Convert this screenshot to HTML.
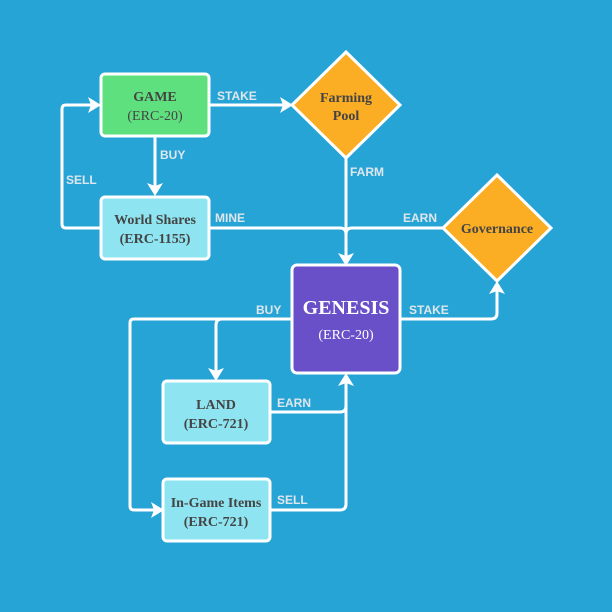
<!DOCTYPE html>
<html><head><meta charset="utf-8"><style>
html,body{margin:0;padding:0;background:#27a4d6;}
svg{display:block}
.l{font-family:"Liberation Sans",sans-serif;font-weight:bold;font-size:12px;fill:#dfe6ec}
.n{font-family:"Liberation Serif",serif;font-weight:bold;font-size:14px;fill:#444;text-anchor:middle}
.e{stroke:#fff;stroke-width:3;fill:none;stroke-linejoin:round}
.h{fill:#fff}
</style></head><body>
<svg width="612" height="612" viewBox="0 0 612 612">
<rect width="612" height="612" fill="#27a4d6"/>
<path class="e" d="M209 105H284"/>
<path class="h" d="M293 105L280 97L283 105L280 113Z"/>
<path class="e" d="M155 136V188"/>
<path class="h" d="M155 196L147 183L155 186L163 183Z"/>
<path class="e" d="M101 228H66Q62 228 62 224V109Q62 105 66 105H93"/>
<path class="h" d="M101 105L88 97L91 105L88 113Z"/>
<path class="e" d="M209 228H340Q346 228 346 234V257"/>
<path class="e" d="M346 158V257"/>
<path class="e" d="M443 228H352Q346 228 346 234"/>
<path class="h" d="M346 266L338 253L346 256L354 253Z"/>
<path class="e" d="M400 319H491Q497 319 497 313V290"/>
<path class="h" d="M497 281L489 294L497 291L505 294Z"/>
<path class="e" d="M292 319H134Q130 319 130 323V506Q130 510 134 510H155"/>
<path class="h" d="M164 510L151 502L154 510L151 518Z"/>
<path class="e" d="M222 319Q216 319 216 325V373"/>
<path class="h" d="M216 381L208 368L216 371L224 368Z"/>
<path class="e" d="M270 412H340Q346 412 346 406V381"/>
<path class="e" d="M270 510H340Q346 510 346 504V381"/>
<path class="h" d="M346 373L338 386L346 383L354 386Z"/>
<rect x="101" y="74" width="108" height="62" rx="4" fill="#5fe07f" stroke="#fff" stroke-width="3"/>
<text class="n" x="155" y="101">GAME</text>
<text class="n" x="155" y="120" style="font-weight:normal">(ERC-20)</text>
<rect x="101" y="197" width="108" height="62" rx="4" fill="#8ee5f1" stroke="#fff" stroke-width="3"/>
<text class="n" x="155" y="224">World Shares</text>
<text class="n" x="155" y="243">(ERC-1155)</text>
<path d="M346 52L400 105L346 158L292 105Z" fill="#fbae24" stroke="#fff" stroke-width="3"/>
<text class="n" x="346" y="102">Farming</text>
<text class="n" x="346" y="120">Pool</text>
<path d="M497 175L551 228L497 281L443 228Z" fill="#fbae24" stroke="#fff" stroke-width="3"/>
<text class="n" x="497" y="233">Governance</text>
<rect x="292" y="265" width="108" height="108" rx="5" fill="#6a50c8" stroke="#fff" stroke-width="3"/>
<text class="n" x="346" y="314" style="fill:#fff;font-size:20px">GENESIS</text>
<text class="n" x="346" y="339" style="fill:#fff;font-weight:normal">(ERC-20)</text>
<rect x="163" y="381" width="107" height="62" rx="4" fill="#8ee5f1" stroke="#fff" stroke-width="3"/>
<text class="n" x="216" y="409">LAND</text>
<text class="n" x="216" y="428">(ERC-721)</text>
<rect x="163" y="479" width="107" height="62" rx="4" fill="#8ee5f1" stroke="#fff" stroke-width="3"/>
<text class="n" x="216" y="507">In-Game Items</text>
<text class="n" x="216" y="526">(ERC-721)</text>
<text class="l" x="217" y="100">STAKE</text>
<text class="l" x="160" y="159">BUY</text>
<text class="l" x="66" y="184">SELL</text>
<text class="l" x="215" y="222">MINE</text>
<text class="l" x="350" y="176">FARM</text>
<text class="l" x="403" y="222">EARN</text>
<text class="l" x="256" y="314">BUY</text>
<text class="l" x="409" y="314">STAKE</text>
<text class="l" x="277" y="407">EARN</text>
<text class="l" x="277" y="504">SELL</text>
</svg>
</body></html>
